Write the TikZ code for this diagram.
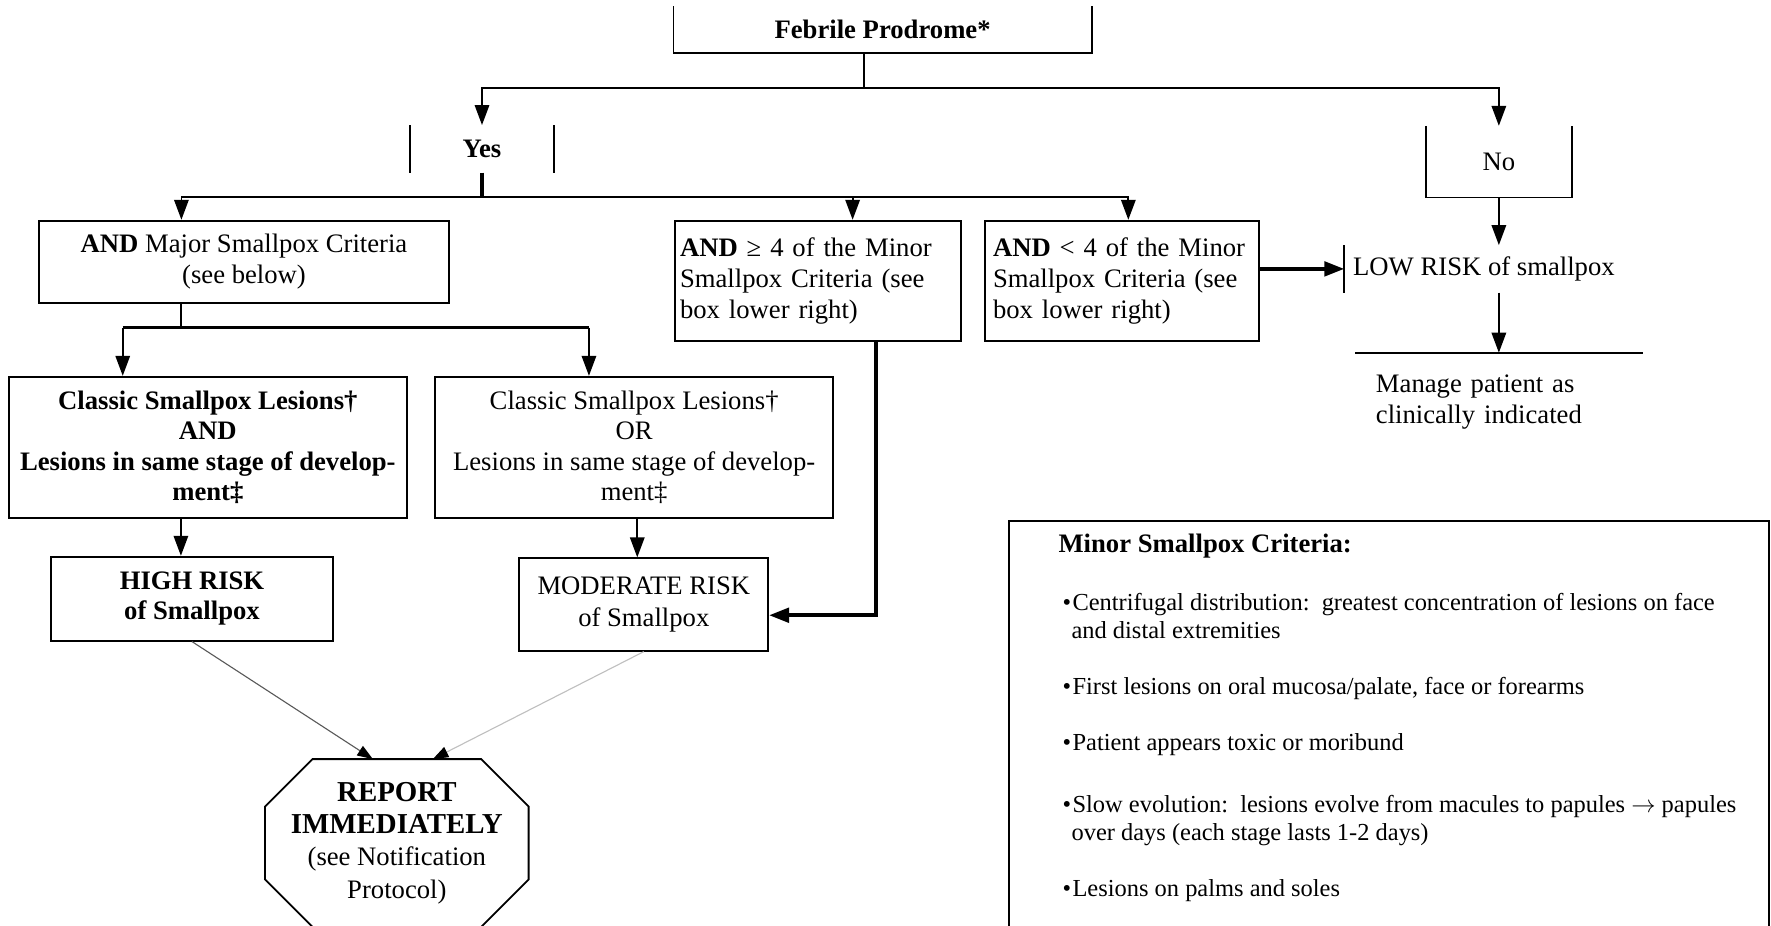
\documentclass[tikz,border=0pt]{standalone}
\usepackage{fontspec}
\setmainfont{Liberation Serif}
\usetikzlibrary{arrows.meta,calc}

\begin{document}
\begin{tikzpicture}[
  x=0.45pt,y=-0.45pt,line width=0.8pt,
  every node/.style={font=\fontsize{12}{14}\selectfont},
  box/.style     ={rectangle,draw,line width=0.8pt,align=center},
  openbox/.style ={rectangle,align=center},
  arr/.style     ={-{Triangle[length=9pt,width=6.5pt]},line width=0.8pt},
  arrthick/.style={arr,line width=1.7pt},
  bar/.style     ={line width=1.5pt},
  faint/.style   ={-{Triangle[length=7pt,width=5pt,color=black]},line width=0.5pt}
]
\useasboundingbox (0,0) rectangle (1771,926);

\node[openbox,minimum width=187.3pt,minimum height=20.4pt] (feb) at (882.6,29.65) {\textbf{Febrile Prodrome*}};
\node[openbox,minimum width=63.9pt,minimum height=20.6pt]  (yes) at (482,148.85)   {\textbf{Yes}};
\node[openbox,minimum width=64.9pt,minimum height=31.5pt]  (no)  at (1498.85,161.7) {No};

\node[box,minimum width=184.5pt,minimum height=36.9pt] (major) at (244,261.7)
  {\textbf{AND} Major Smallpox Criteria\\(see below)};
\node[box,align=left,text width=124pt,inner xsep=2.25pt,minimum height=54pt] (minorge) at (817.85,280.7)
  {\textbf{AND} ≥ 4 of the Minor\\Smallpox Criteria (see\\box lower right)};
\node[box,align=left,text width=116.1pt,inner xsep=3.6pt,minimum height=54pt] (minorlt) at (1122,280.7)
  {\textbf{AND} < 4 of the Minor\\Smallpox Criteria (see\\box lower right)};

\node[openbox,anchor=west,inner xsep=3.6pt,minimum height=20.6pt] (low) at (1344.3,268.9) {LOW RISK of smallpox};
\node[openbox,anchor=north,align=left,text width=110.6pt,inner xsep=9pt,inner ysep=9.7pt] (manage) at (1498.85,352.7)
  {Manage patient as\\clinically indicated};

\node[box,font=\fontsize{12}{13.7}\selectfont\bfseries,minimum width=179pt,minimum height=63.7pt] (classand) at (207.85,447.5)
  {Classic Smallpox Lesions†\\AND\\Lesions in same stage of develop-\\ment‡};
\node[box,font=\fontsize{12}{13.7}\selectfont,minimum width=179.2pt,minimum height=63.7pt] (classor) at (634.15,447.5)
  {Classic Smallpox Lesions†\\OR\\Lesions in same stage of develop-\\ment‡};

\node[box,font=\fontsize{12}{13.7}\selectfont\bfseries,minimum width=127.2pt,minimum height=37.8pt] (high) at (192,598.7)
  {HIGH RISK\\of Smallpox};
\node[box,minimum width=112pt,minimum height=41.6pt] (moderate) at (643.8,604.5)
  {MODERATE RISK\\of Smallpox};

\node[openbox,font=\fontsize{12}{14.5}\selectfont,minimum width=117.8pt,minimum height=74.7pt] (report) at (396.85,843)
  {\textbf{\fontsize{13}{15}\selectfont REPORT}\\\textbf{\fontsize{13}{15}\selectfont IMMEDIATELY}\\(see Notification\\Protocol)};

\node[openbox,anchor=north west,align=left,inner xsep=21.9pt,inner ysep=5.6pt,font=\fontsize{11}{12.6}\selectfont] (minor) at (1009,520.7)
  {\textbf{\fontsize{12}{14}\selectfont Minor Smallpox Criteria:}\\[13.7pt]
   \hspace*{1.8pt}\makebox[4.5pt][l]{\textbullet}Centrifugal distribution:\ \ greatest concentration of lesions on face\\
   \hspace*{5.85pt}and distal extremities\\[12.5pt]
   \hspace*{1.8pt}\makebox[4.5pt][l]{\textbullet}First lesions on oral mucosa/palate, face or forearms\\[12.6pt]
   \hspace*{1.8pt}\makebox[4.5pt][l]{\textbullet}Patient appears toxic or moribund\\[15pt]
   \hspace*{1.8pt}\makebox[4.5pt][l]{\textbullet}Slow evolution:\ \ lesions evolve from macules to papules \(\rightarrow\) papules\\
   \hspace*{5.85pt}over days (each stage lasts 1-2 days)\\[12.9pt]
   \hspace*{1.8pt}\makebox[4.5pt][l]{\textbullet}Lesions on palms and soles};

\coordinate (split1)  at (864,88);
\coordinate (split2)  at (482,196.7);
\coordinate (split3)  at (181,327.7);
\coordinate (minorSE) at (1769,926);
\coordinate (majIn) at ($(major.north west)!0.348!(major.north east)$);
\coordinate (geIn)  at ($(minorge.north west)!0.621!(minorge.north east)$);
\coordinate (ltIn)  at ($(minorlt.north west)!0.523!(minorlt.north east)$);
\coordinate (caIn)  at ($(classand.north west)!0.287!(classand.north east)$);
\coordinate (coIn)  at ($(classor.north west)!0.387!(classor.north east)$);
\coordinate (hiIn)  at ($(high.north west)!0.461!(high.north east)$);
\coordinate (moIn)  at ($(moderate.north west)!0.474!(moderate.north east)$);
\coordinate (geOut) at ($(minorge.south west)!0.703!(minorge.south east)$);
\coordinate (moSide) at ($(moderate.north east)!0.614!(moderate.south east)$);
\coordinate (repL)  at ($(report.north)+(-24,0)$);
\coordinate (repR)  at ($(report.north)+(36,0)$);

\draw (feb.north west) |- (feb.south east) -- (feb.north east);
\draw (no.north west) |- (no.south east) -- (no.north east);
\draw (yes.north west) -- (yes.south west) (yes.north east) -- (yes.south east);
\draw (low.north west) -- (low.south west);
\draw (manage.north west) -- (manage.north east);
\draw (minor.west |- minorSE) |- (minorSE |- minor.north) -- (minorSE);
\draw ($(report.north west)+(47.5,0)$) -- ($(report.north east)+(-47.5,0)$)
   -- ($(report.north east)+(0,47.5)$) -- ($(report.south east)+(0,-47.5)$)
   -- ($(report.south east)+(-47.5,0)$) -- ($(report.south west)+(47.5,0)$)
   -- ($(report.south west)+(0,-47.5)$) -- ($(report.north west)+(0,47.5)$) -- cycle;

\draw (feb.south -| split1) -- (split1);
\draw[arr] (split1) -| (yes.north);
\draw[arr] (split1) -| (no.north);

\draw[bar] (yes.south) -- (split2);
\draw[arr] (split2) -| (majIn);
\draw[arr] (split2) -| (geIn);
\draw[arr] (split2) -| (ltIn);

\draw (major.south -| split3) -- (split3);
\draw[bar] (caIn |- split3) -- (coIn |- split3);
\draw[arr] (caIn |- split3) -- (caIn);
\draw[arr] (coIn |- split3) -- (coIn);

\draw[arr] (classand.south -| hiIn) -- (hiIn);
\draw[arr] (classor.south -| moIn) -- (moIn);
\draw[arrthick] (geOut) |- (moSide);

\draw[arrthick] (minorlt.east |- low.west) -- (low.west);
\draw[arr] (no.south) -- (no.south |- low.north);
\draw[arr] (no.south |- low.south) -- (manage.north);

\draw[faint,draw=black!65] (high.south) -- (repL);
\draw[faint,draw=black!25] (moderate.south) -- (repR);

\end{tikzpicture}
\end{document}
